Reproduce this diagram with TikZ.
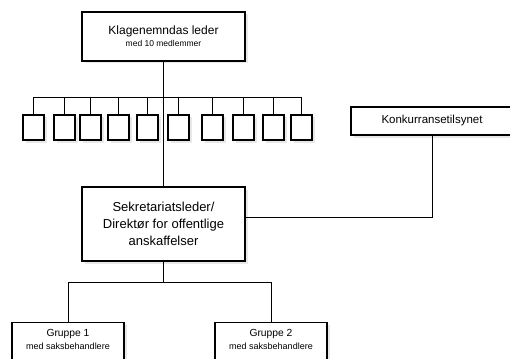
\documentclass[tikz,border=0pt]{standalone}
\usepackage{fontspec}
\setmainfont{Liberation Sans}
\usetikzlibrary{positioning, shadows}

\tikzset{
  orgbox/.style={draw, line width=1.1pt, fill=white, align=center, inner sep=0pt,
    drop shadow={shadow xshift=2.5pt, shadow yshift=-2.5pt, opacity=.18}},
  groupbox/.style={orgbox, minimum width=112pt, anchor=north, inner ysep=7pt, text depth=30pt},
  link/.style={line width=0.9pt}
}

\begin{document}
\begin{tikzpicture}[x=1pt, y=-1pt]
    \useasboundingbox (0,0) rectangle (510,358);
    \clip (0,0) rectangle (510,358);
    \def\mw{21}
    \def\mh{25}

    \node[orgbox, minimum width=163pt, minimum height=49pt] (leder) at (163.5,36.5)
      {{\fontsize{12}{14}\selectfont Klagenemndas leder}\\[0pt]
       {\fontsize{8.5}{10}\selectfont med 10 medlemmer}};

    \foreach \xc [count=\i] in {33.5, 64.5, 90.5, 118.5, 147.5,
                                178.5, 212.5, 243.5, 273.5, 301.5}{
      \node[orgbox, minimum width=\mw pt, minimum height=\mh pt] (m\i) at (\xc,127.5) {};
      \draw[link] (m\i.north) -- ++(0,-17);
    }
    \draw[link] (m1.north) ++(0,-17) -- ([yshift=17pt]m10.north);

    \node[orgbox, minimum width=162pt, minimum height=28pt] (konk) at (432,121)
      {\fontsize{11.5}{14}\selectfont Konkurransetilsynet};

    \node[orgbox, minimum width=163pt, minimum height=74pt,
          font=\fontsize{13}{17.3}\selectfont] (sekr) at (163.5,224)
      {Sekretariatsleder/\\Direktør for offentlige\\anskaffelser};

    \node[groupbox] (gr1) at (68,322)
      {{\fontsize{10.3}{12}\selectfont Gruppe 1}\\[1pt]{\fontsize{9}{11}\selectfont med saksbehandlere}};
    \node[groupbox] (gr2) at (271,322)
      {{\fontsize{10.3}{12}\selectfont Gruppe 2}\\[1pt]{\fontsize{9}{11}\selectfont med saksbehandlere}};

    \draw[link] (leder) -- (sekr);
    \draw[link] (konk.south) |- ([yshift=7pt]sekr.east);
    \draw[link] (sekr.south) -- ++(0,21) coordinate (split);
    \draw[link] (gr1.north) |- (split) -| (gr2.north);
  \end{tikzpicture}
\end{document}
